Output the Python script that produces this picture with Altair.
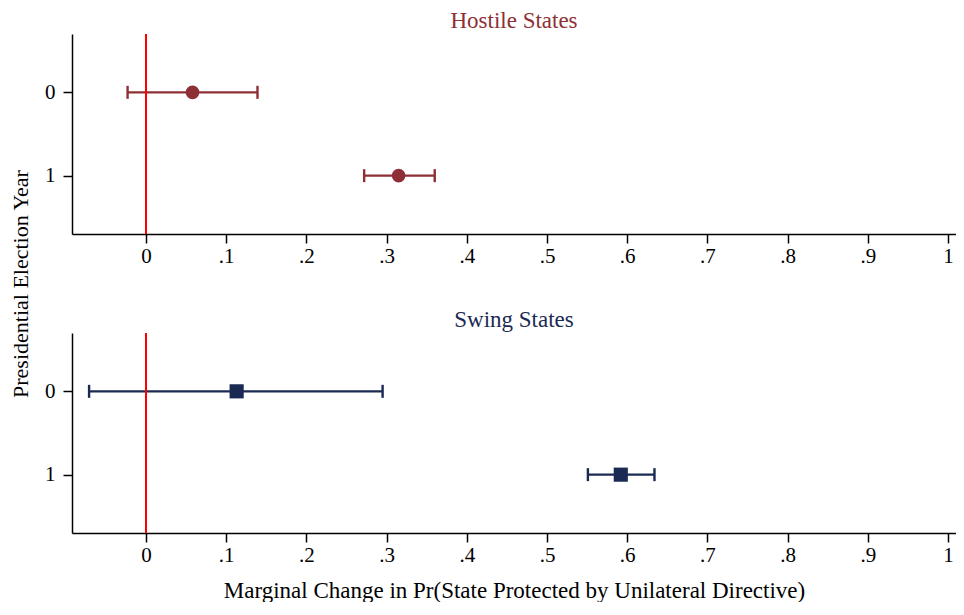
import altair as alt
import pandas as pd

years = ["0", "1"]
hostile_est = [0.058, 0.315]
hostile_lo = [-0.023, 0.272]
hostile_hi = [0.139, 0.360]
swing_est = [0.113, 0.592]
swing_lo = [-0.071, 0.551]
swing_hi = [0.295, 0.634]

panel_titles = ["Hostile States", "Swing States"]
x_ticks = [0, 0.1, 0.2, 0.3, 0.4, 0.5, 0.6, 0.7, 0.8, 0.9, 1.0]
x_title = "Marginal Change in Pr(State Protected by Unilateral Directive)"
y_title = "Presidential Election Year"

FONT = "Liberation Serif"
HOSTILE = "#8e2f35"
SWING = "#1b2a52"
XMIN, XMAX = -0.0923, 1.010

label_expr = ("datum.value == 0 ? '0' : datum.value == 1 ? '1' : "
              "replace(format(datum.value, '.1f'), '0.', '.')")


def panel(title, est, lo, hi, color, shape, size, show_x_title, add_ytitle):
    df = pd.DataFrame({"year": years, "est": est, "lo": lo, "hi": hi})
    base = alt.Chart(df)
    xscale = alt.Scale(domain=[XMIN, XMAX], nice=False, zero=False)
    yscale = alt.Scale(type="point", domain=years, padding=0.7)
    if show_x_title:
        xaxis = alt.Axis(values=x_ticks, labelExpr=label_expr, title=x_title)
    else:
        xaxis = alt.Axis(values=x_ticks, labelExpr=label_expr, title=None)
    yaxis = alt.Axis(title=None)

    bars = base.mark_rule(color=color, strokeWidth=2.4, opacity=1).encode(
        x=alt.X("lo:Q", scale=xscale, axis=xaxis),
        x2="hi:Q",
        y=alt.Y("year:N", scale=yscale, axis=yaxis),
    )
    cap_lo = base.mark_tick(color=color, thickness=2.4, size=13, opacity=1).encode(
        x="lo:Q", y="year:N")
    cap_hi = base.mark_tick(color=color, thickness=2.4, size=13, opacity=1).encode(
        x="hi:Q", y="year:N")
    pts = base.mark_point(shape=shape, filled=True, size=size, opacity=1,
                          color=color).encode(x="est:Q", y="year:N")
    zero = alt.Chart(pd.DataFrame({"z": [0.0]})).mark_rule(
        color="#ff0000", strokeWidth=2, opacity=1).encode(x="z:Q")
    layers = [bars, cap_lo, cap_hi, pts, zero]
    if add_ytitle:
        ytxt = alt.Chart(pd.DataFrame({"t": [y_title]})).mark_text(
            angle=270, font=FONT, fontSize=22, color="black",
            align="center", baseline="middle").encode(
            x=alt.value(-51), y=alt.value(250), text="t:N")
        layers.append(ytxt)
    return alt.layer(*layers).properties(
        width=884, height=200,
        title=alt.TitleParams(title, color=color, font=FONT, fontSize=23,
                              fontWeight="normal", anchor="middle", offset=0),
    )


top = panel(panel_titles[0], hostile_est, hostile_lo, hostile_hi, HOSTILE,
            "circle", 185, False, True)
bottom = panel(panel_titles[1], swing_est, swing_lo, swing_hi, SWING,
               "square", 200, True, False)

chart = alt.vconcat(top, bottom, spacing=99, bounds="flush").properties(
    padding={"left": 2, "top": 2, "right": 0, "bottom": 0},
    background="white",
).configure_view(stroke=None).configure_axis(
    domainColor="black", domainWidth=1.5, tickColor="black", tickWidth=1.5,
    tickSize=9, labelFont=FONT, labelFontSize=21, labelColor="black",
    grid=False, titleFont=FONT, titleFontSize=23,
    titleColor="black", titleFontWeight="normal",
).configure_axisX(titlePadding=14, labelPadding=2).configure_axisY(labelPadding=8)

chart.save("out.html", embed_options={"renderer": "svg", "actions": False})
